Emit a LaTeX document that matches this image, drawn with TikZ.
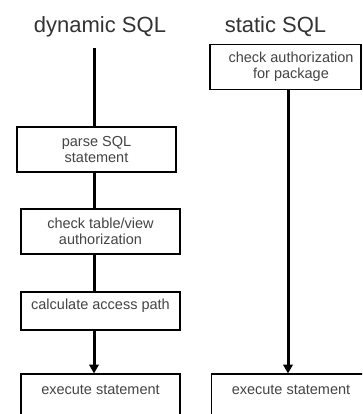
\documentclass[tikz,border=0pt]{standalone}
\usepackage{fontspec}
\setmainfont{Liberation Sans}
\usetikzlibrary{arrows.meta}
\definecolor{titlegray}{HTML}{333333}
\definecolor{textgray}{HTML}{444444}
\tikzset{
  heading/.style={font=\fontsize{22}{25}\selectfont, text=titlegray, inner sep=0pt, anchor=base},
  stepbox/.style={draw=black, line width=1.8pt, fill=white, align=center,
    font=\fontsize{14.5}{16.5}\selectfont, text=textgray, inner sep=0pt, outer sep=0pt,
    minimum width=159pt},
  flow/.style={draw=black, line width=3pt},
  flowarrow/.style={flow, -{Triangle[width=9.5pt,length=9pt]}, shorten >=0.5pt}
}
\begin{document}
\begin{tikzpicture}[x=1pt,y=-1pt]
  \useasboundingbox (0,0) rectangle (362,414);
  \clip (0,0) rectangle (362,414);

  % column headings
  \node[heading] (dyn) at (100,32.5) {dynamic SQL};
  \node[heading] (sta) at (275.5,32.5) {static SQL};

  % dynamic SQL steps
  \coordinate (dstart) at (94,48);
  \node[stepbox, minimum height=45pt] (parse) at (96.5,149.5) {parse SQL\\statement};
  \node[stepbox, minimum height=45pt] (check) at (100.5,231.5) {check table/view\\authorization};
  \node[stepbox, anchor=north, text height=17.5pt, text depth=20.5pt] (calc) at (100.5,292) {calculate access path};
  \node[stepbox, anchor=north, text height=20pt, text depth=25pt] (execL) at (100.5,374) {execute statement};

  % static SQL steps
  \node[stepbox, minimum width=151pt, minimum height=45pt] (auth) at (285.5,67)
    {\hspace*{11pt}check authorization\\\hspace*{11pt}for package};
  \coordinate (scol) at (288,0);
  \node[stepbox, anchor=north west, text height=20pt, text depth=25pt] (execR) at (211.5,374) {execute statement};

  % connectors, dynamic column
  \draw[flow] (dstart) -- (parse.north -| dstart);
  \draw[flow] (parse.south -| dstart) -- (check.north -| dstart);
  \draw[flow] (check.south -| dstart) -- (calc.north -| dstart);
  \draw[flowarrow] (calc.south -| dstart) -- (execL.north -| dstart);

  % connector, static column
  \draw[flowarrow] (auth.south -| scol) -- (execR.north -| scol);
\end{tikzpicture}
\end{document}
